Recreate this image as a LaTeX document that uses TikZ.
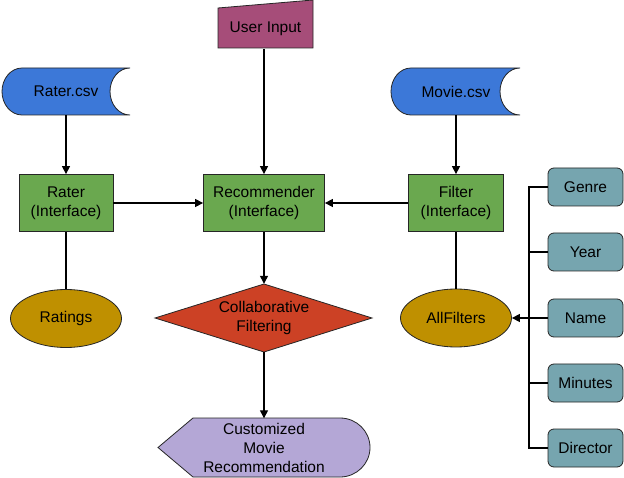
\documentclass[tikz,border=0pt]{standalone}
\usepackage{fontspec}
\setmainfont{Liberation Sans}
\usetikzlibrary{arrows.meta,shapes.geometric}
\definecolor{cinput}{HTML}{A64D79}
\definecolor{cdata}{HTML}{3C78D8}
\definecolor{cgreen}{HTML}{6AA84F}
\definecolor{cgold}{HTML}{BF9000}
\definecolor{cred}{HTML}{CC4125}
\definecolor{cpurple}{HTML}{B4A7D6}
\definecolor{cteal}{HTML}{76A5AF}
\tikzset{
  every node/.style={font=\fontsize{15.5}{19}\selectfont, align=center, inner sep=0pt},
  outline/.style={draw=black!85, line width=0.8pt},
  iface/.style={outline, fill=cgreen, rectangle},
  oval/.style={outline, ellipse, fill=cgold, minimum width=111pt, minimum height=58pt},
  attr/.style={outline, fill=cteal, rounded corners=6pt, minimum width=75pt, minimum height=38pt},
  arr/.style={line width=1.3pt, -{Triangle[length=8pt,width=8pt]}},
  link/.style={line width=1.3pt}
}
\begin{document}
\begin{tikzpicture}[x=1pt,y=1pt]
\useasboundingbox (0,0) rectangle (624,-478);

% manual input shape
\path[outline, fill=cinput] (218,-8) -- (313,0) -- (313,-48) -- (218,-48) -- cycle;
\node[minimum width=95pt, minimum height=40pt] (ui) at (265.5,-29) {User Input};

% stored data shapes
\path[outline, fill=cdata] (22,-68) -- (130,-68)
  arc[start angle=90, end angle=270, x radius=20pt, y radius=23.5pt]
  -- (22,-115)
  arc[start angle=270, end angle=90, x radius=20pt, y radius=23.5pt] -- cycle;
\node[minimum width=128pt, minimum height=47pt] (rcsv) at (66,-91.5) {Rater.csv};

\path[outline, fill=cdata] (411,-68) -- (520,-68)
  arc[start angle=90, end angle=270, x radius=20pt, y radius=23.5pt]
  -- (411,-115)
  arc[start angle=270, end angle=90, x radius=20pt, y radius=23.5pt] -- cycle;
\node[minimum width=128pt, minimum height=47pt] (mcsv) at (456,-91.5) {Movie.csv};

% interfaces
\node[iface, minimum width=94pt, minimum height=57pt] (rater) at (66,-203) {Rater\\(Interface)};
\node[iface, minimum width=121pt, minimum height=57pt] (rec) at (264,-203) {Recommender\\(Interface)};
\node[iface, minimum width=95pt, minimum height=57pt] (filt) at (456,-203) {Filter\\(Interface)};

% ellipses
\node[oval] (ratings) at (66,-318.5) {Ratings};
\node[oval] (allf) at (456,-318) {AllFilters};

% collaborative filtering decision
\path[outline, fill=cred] (155,-318) -- (264,-284) -- (372,-318) -- (264,-352) -- cycle;
\node[minimum width=217pt, minimum height=68pt] (cf) at (264,-318) {Collaborative\\Filtering};

% display shape
\path[outline, fill=cpurple] (158,-447.5) -- (193,-418) -- (340,-418)
  arc[start angle=90, end angle=-90, x radius=30pt, y radius=29.5pt]
  -- (193,-477) -- cycle;
\node[minimum width=212pt, minimum height=59pt] (out) at (264,-448) {Customized\\Movie\\Recommendation};

% filter attributes
\node[attr] (genre) at (585.5,-187) {Genre};
\node[attr] (year) at (585.5,-252) {Year};
\node[attr] (name) at (585.5,-318) {Name};
\node[attr] (minutes) at (585.5,-383) {Minutes};
\node[attr] (director) at (585.5,-448) {Director};
\coordinate (bus) at (529,-318);

% connectors
\draw[arr] (ui.south -| rec.north) -- (rec.north);
\draw[arr] (rcsv.south) -- (rater.north);
\draw[arr] (mcsv.south) -- (filt.north);
\draw[arr] (rater.east) -- (rec.west);
\draw[arr] (filt.west) -- (rec.east);
\draw[link] (rater.south) -- (ratings.north);
\draw[link] (filt.south) -- (allf.north);
\draw[arr] (rec.south) -- (cf.north);
\draw[arr] (cf.south) -- (out.north);
\draw[link] (genre.west) -| (bus);
\draw[link] (year.west) -| (bus);
\draw[link] (minutes.west) -| (bus);
\draw[link] (director.west) -| (bus);
\draw[arr] (name.west) -- (allf.east);
\end{tikzpicture}
\end{document}
